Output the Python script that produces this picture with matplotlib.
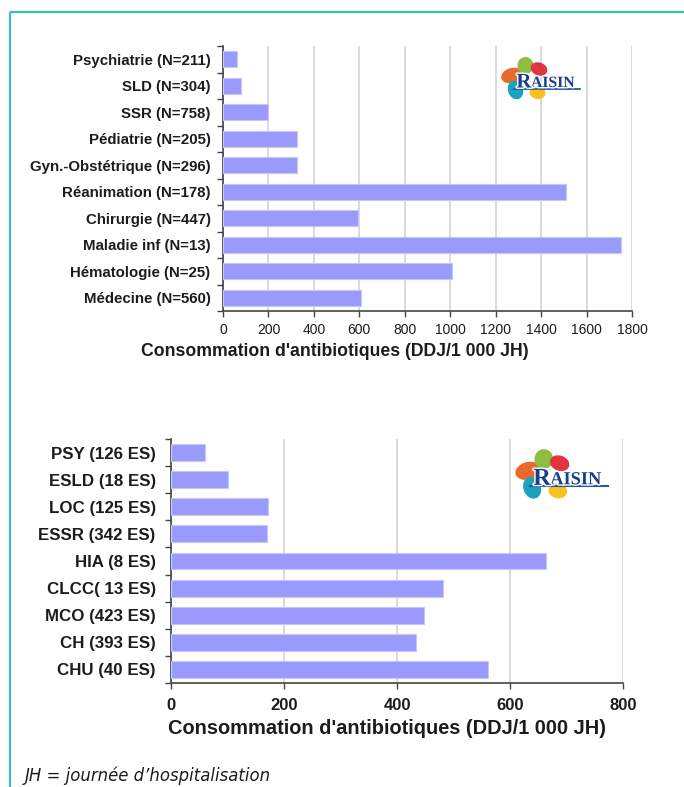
import matplotlib
matplotlib.use("Agg")
import matplotlib.pyplot as plt
from matplotlib.patches import Ellipse, Rectangle
import matplotlib.patheffects as pe
import numpy as np

plt.rcParams['font.family'] = ['Liberation Sans', 'DejaVu Sans']

# --- data ---
services = ["Psychiatrie (N=211)", "SLD (N=304)", "SSR (N=758)", "Pédiatrie (N=205)",
            "Gyn.-Obstétrique (N=296)", "Réanimation (N=178)", "Chirurgie (N=447)",
            "Maladie inf (N=13)", "Hématologie (N=25)", "Médecine (N=560)"]
services_ddj = [63, 80, 200, 327, 326, 1510, 594, 1750, 1010, 607]
services_ticks = [0, 200, 400, 600, 800, 1000, 1200, 1400, 1600, 1800]

etabs = ["PSY (126 ES)", "ESLD (18 ES)", "LOC (125 ES)", "ESSR (342 ES)", "HIA (8 ES)",
         "CLCC( 13 ES)", "MCO (423 ES)", "CH (393 ES)", "CHU (40 ES)"]
etabs_ddj = [60, 101, 172, 170, 663, 481, 448, 433, 561]
etabs_ticks = [0, 200, 400, 600, 800]

xlabel = "Consommation d'antibiotiques (DDJ/1 000 JH)"
note = "JH = journée d\u2019hospitalisation"

BAR = "#9a9afc"
EDGE = "#c6c6fd"
TXT = "#1c1c1c"
W, H = 684, 787

fig = plt.figure(figsize=(W / 100, H / 100), dpi=100)


def hbar_panel(rect, labels, values, ticks, lab_size, lab_pad, tick_size, tick_weight,
               tick_pad, xl_size, xl_x, xl_y):
    ax = fig.add_axes(rect)
    y = np.arange(len(labels))
    ax.barh(y, values, height=0.62, color=BAR, edgecolor=EDGE, linewidth=0.8, zorder=3)
    ax.set_ylim(len(labels) - 0.5, -0.5)
    ax.set_xlim(ticks[0], ticks[-1])
    ax.set_xticks(ticks)
    ax.set_xticklabels([str(t) for t in ticks], fontsize=tick_size, fontweight=tick_weight, color=TXT)
    ax.set_yticks(y)
    ax.set_yticklabels(labels, fontsize=lab_size, fontweight="bold", color=TXT)
    ax.set_yticks(np.arange(len(labels) + 1) - 0.5, minor=True)
    ax.tick_params(axis="y", which="major", length=0, pad=lab_pad)
    ax.tick_params(axis="y", which="minor", length=4, width=1, color="#444444")
    ax.tick_params(axis="x", length=4, width=1, color="#444444", pad=tick_pad)
    ax.grid(axis="x", color="#d4d4d4", linewidth=1.2, zorder=0)
    for s in ("top", "right"):
        ax.spines[s].set_visible(False)
    for s in ("left", "bottom"):
        ax.spines[s].set_color("#444444")
        ax.spines[s].set_linewidth(1.2)
    ax.set_xlabel(xlabel, fontsize=xl_size, fontweight="bold", color=TXT)
    # label position given in figure pixels
    x0 = rect[0] * W
    bot = (1 - rect[1]) * H
    ax.xaxis.set_label_coords((xl_x - x0) / (rect[2] * W), -(xl_y - bot) / (rect[3] * H))
    ax.xaxis.label.set_va("center")
    return ax


hbar_panel([223 / W, 1 - 311 / H, 409 / W, 265 / H], services, services_ddj, services_ticks,
           10.8, 9, 10, "normal", 5, 12.7, 335, 352)
hbar_panel([171 / W, 1 - 683 / H, 452 / W, 244 / H], etabs, etabs_ddj, etabs_ticks,
           12.2, 11, 12, "bold", 7, 14.4, 387, 729)

# overlay in pixel coordinates for frame, logos and note
ov = fig.add_axes([0, 0, 1, 1], zorder=10)
ov.set_xlim(0, W)
ov.set_ylim(H, 0)
ov.axis("off")
ov.patch.set_alpha(0)

ov.add_patch(Rectangle((10, 12), W + 20, H + 20, fill=False, edgecolor="#3dbfb0", linewidth=1.6))


def logo(x0, y0, s):
    petals = [((12, 19.5), 22, 15, -15, "#e8692a"),
              ((25.5, 9.5), 16, 17, 0, "#8cbf3f"),
              ((39, 13), 17, 13, 20, "#e0343f"),
              ((15.5, 34), 15, 19, -20, "#1aa3bf"),
              ((37.5, 36.5), 16, 13, 10, "#f7c21b")]
    for (cx, cy), w, h, a, c in petals:
        ov.add_patch(Ellipse((x0 + cx * s, y0 + cy * s), w * s, h * s, angle=a, color=c, lw=0))
    fx = [pe.withStroke(linewidth=2, foreground="white")]
    ov.plot([x0 + 14 * s, x0 + 80 * s], [y0 + 32.5 * s, y0 + 32.5 * s], color="#2a55a8", lw=1.3 * s)
    ov.text(x0 + 31 * s, y0 + 31 * s, "AISIN", fontsize=11.3 * s, fontweight="bold", color="#17408c",
            family=["Liberation Serif", "DejaVu Serif"], va="baseline", path_effects=fx)
    ov.text(x0 + 31.5 * s, y0 + 31.5 * s, "R", fontsize=15 * s, fontweight="bold", color="#17408c",
            family=["Liberation Serif", "DejaVu Serif"], va="baseline", ha="right", path_effects=fx)


logo(500, 56, 1.0)
logo(514, 448, 1.17)

ov.text(25, 781, note, fontsize=11.9, style="italic", color=TXT,
        family=["Liberation Sans Narrow", "DejaVu Sans"], va="baseline")

fig.savefig("out.png", dpi=100)
